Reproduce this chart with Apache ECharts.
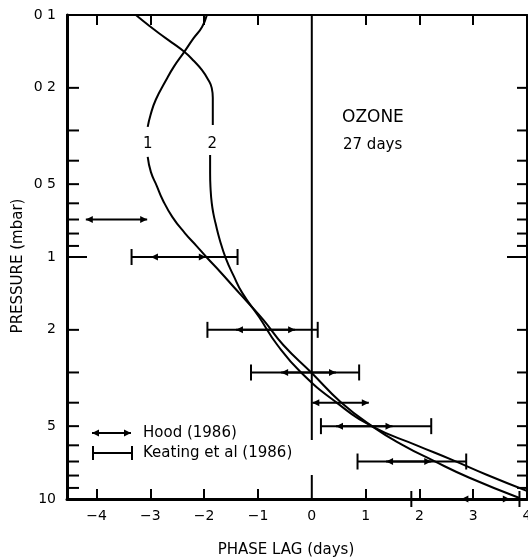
<!DOCTYPE html>
<html>
<head>
<meta charset="utf-8">
<script src="https://cdn.jsdelivr.net/npm/echarts@6/dist/echarts.min.js"></script>
<style>
  html, body { margin: 0; padding: 0; background: #fff; }
  #chart { width: 528px; height: 560px; }
</style>
</head>
<body>
<div id="chart"></div>
<script>
// Ozone 27-day response: phase lag (days) against pressure (mbar)

// Model curve 1 (upper and lower pieces, broken around its label)
const curve1TopPressure = [0.100, 0.112, 0.125, 0.142, 0.163, 0.186, 0.224, 0.260, 0.290];
const curve1TopLag      = [-1.95, -2.04, -2.20, -2.37, -2.56, -2.71, -2.90, -3.00, -3.05];
const curve1BotPressure = [0.386, 0.446, 0.509, 0.581, 0.684, 0.796, 0.901, 1.00, 1.153, 1.33, 1.549, 1.82, 2.31, 3.00, 3.98, 5.02, 6.00, 6.91, 8.17, 9.90];
const curve1BotLag      = [-3.05, -2.99, -2.88, -2.77, -2.59, -2.36, -2.14, -1.96, -1.70, -1.45, -1.18, -0.90, -0.53, -0.01, 0.54, 1.13, 1.70, 2.24, 2.93, 3.86];

// Model curve 2
const curve2TopPressure = [0.100, 0.110, 0.119, 0.130, 0.142, 0.155, 0.169, 0.186, 0.200, 0.220, 0.250, 0.285];
const curve2TopLag      = [-3.27, -3.04, -2.84, -2.60, -2.37, -2.19, -2.04, -1.92, -1.86, -1.84, -1.84, -1.84];
const curve2BotPressure = [0.379, 0.450, 0.530, 0.598, 0.660, 0.724, 0.850, 1.01, 1.20, 1.41, 1.77, 2.31, 3.00, 3.98, 5.02, 6.00, 6.91, 7.94, 9.30];
const curve2BotLag      = [-1.89, -1.89, -1.88, -1.86, -1.83, -1.79, -1.71, -1.60, -1.45, -1.29, -0.98, -0.64, -0.20, 0.45, 1.13, 1.95, 2.62, 3.25, 4.02];

// Curve number labels: [text, lag, pressure]
const curveLabels = [['1', -3.05, 0.34], ['2', -1.85, 0.34]];

// Hood (1986) ranges
const hoodPressure = [0.7, 1, 2, 3, 4, 5, 7, 10];
const hoodLow      = [-4.20, -2.99, -1.41, -0.57, 0.01, 0.45, 1.38, 2.78];
const hoodHigh     = [-3.06, -1.97, -0.31, 0.45, 1.06, 1.50, 2.22, 3.68];

// Keating et al (1986) ranges
const keatingPressure = [1, 2, 3, 5, 7, 10];
const keatingLow      = [-3.35, -1.94, -1.13, 0.17, 0.85, 1.85];
const keatingHigh     = [-1.38, 0.11, 0.88, 2.22, 2.87, 3.86];

// Axes
const lagMin = -4.55, lagMax = 4;
const lagTicks = [-4, -3, -2, -1, 1, 2, 3];
const lagLabels = [-4, -3, -2, -1, 0, 1, 2, 3, 4];
const pressureTicks = [0.1, 0.2, 0.3, 0.4, 0.5, 0.6, 0.7, 0.8, 0.9, 1, 2, 3, 4, 5, 6, 7, 8, 9, 10];
const pressureLabels = { 0.1: '0 1', 0.2: '0 2', 0.5: '0 5', 1: '1', 2: '2', 5: '5', 10: '10' };
// Zero-lag reference line, drawn in two pieces around the legend text: [lag, from, to]
const zeroLineSegments = [[0, 0.1, 5.7], [0, 7.96, 10]];

const FONT = '"DejaVu Sans", sans-serif';
const INK = '#000';

const chart = echarts.init(document.getElementById('chart'), null, { renderer: 'canvas' });

function pairs(lags, pressures) {
  return lags.map((x, i) => [x, pressures[i]]);
}

function curveSeries(lags, pressures) {
  return {
    type: 'line',
    data: pairs(lags, pressures),
    smooth: 0.5,
    showSymbol: false,
    symbol: 'none',
    clip: true,
    lineStyle: { color: INK, width: 2 },
    z: 3
  };
}

function renderPressureTick(params, api) {
  const p = api.value(0);
  const l = api.coord([lagMin, p]);
  const r = api.coord([lagMax, p]);
  const isOne = Math.abs(p - 1) < 1e-9;
  const lenL = isOne ? 20 : 12;
  const lenR = isOne ? 20 : 10;
  const children = [
    { type: 'line', shape: { x1: l[0], y1: l[1], x2: l[0] + lenL, y2: l[1] }, style: { stroke: INK, lineWidth: 2 } },
    { type: 'line', shape: { x1: r[0] - lenR, y1: r[1], x2: r[0], y2: r[1] }, style: { stroke: INK, lineWidth: 2 } }
  ];
  const text = pressureLabels[String(p)];
  if (text) {
    children.push({
      type: 'text',
      style: { text: text, x: l[0] - 11, y: l[1], align: 'right', verticalAlign: 'middle', font: '14px ' + FONT, fill: INK }
    });
  }
  return { type: 'group', children: children };
}

function renderKeating(params, api) {
  const p = api.value(0);
  const a = api.coord([api.value(1), p]);
  const b = api.coord([api.value(2), p]);
  const s = { stroke: INK, lineWidth: 2 };
  return {
    type: 'group',
    children: [
      { type: 'line', shape: { x1: a[0], y1: a[1], x2: b[0], y2: b[1] }, style: s },
      { type: 'line', shape: { x1: a[0], y1: a[1] - 8, x2: a[0], y2: a[1] + 8 }, style: s },
      { type: 'line', shape: { x1: b[0], y1: b[1] - 8, x2: b[0], y2: b[1] + 8 }, style: s }
    ]
  };
}

function arrowHeads(a, b) {
  return [
    { type: 'polygon', shape: { points: [[a[0], a[1]], [a[0] + 7, a[1] - 3.5], [a[0] + 7, a[1] + 3.5]] }, style: { fill: INK } },
    { type: 'polygon', shape: { points: [[b[0], b[1]], [b[0] - 7, b[1] - 3.5], [b[0] - 7, b[1] + 3.5]] }, style: { fill: INK } }
  ];
}

function renderHood(params, api) {
  const p = api.value(0);
  const a = api.coord([api.value(1), p]);
  const b = api.coord([api.value(2), p]);
  return {
    type: 'group',
    children: [
      { type: 'line', shape: { x1: a[0], y1: a[1], x2: b[0], y2: b[1] }, style: { stroke: INK, lineWidth: 2 } }
    ].concat(arrowHeads(a, b))
  };
}

function renderZeroLine(params, api) {
  const a = api.coord([api.value(0), api.value(1)]);
  const b = api.coord([api.value(0), api.value(2)]);
  return { type: 'line', shape: { x1: a[0], y1: a[1], x2: b[0], y2: b[1] }, style: { stroke: INK, lineWidth: 2 } };
}

function renderCurveLabel(params, api) {
  const c = api.coord([api.value(1), api.value(2)]);
  return {
    type: 'text',
    style: { text: curveLabels[params.dataIndex][0], x: c[0], y: c[1], align: 'center', verticalAlign: 'middle', font: '15px ' + FONT, fill: INK }
  };
}

const commonX = {
  type: 'value', min: lagMin, max: lagMax,
  splitLine: { show: false }
};
const commonY = {
  type: 'log', logBase: 10, min: 0.1, max: 10, inverse: true,
  splitLine: { show: false }, axisTick: { show: false }, axisLabel: { show: false }
};

const option = {
  animation: false,
  backgroundColor: '#fff',
  textStyle: { fontFamily: FONT },
  grid: { left: 67, right: 1, top: 15, bottom: 61, containLabel: false, outerBoundsMode: 'none' },
  xAxis: [
    Object.assign({}, commonX, {
      position: 'bottom',
      axisLine: { onZero: false, lineStyle: { color: INK, width: 3 } },
      axisTick: { inside: true, length: 10, customValues: lagTicks, lineStyle: { color: INK, width: 2 } },
      axisLabel: {
        customValues: lagLabels, color: INK, fontSize: 14, margin: 10,
        formatter: v => (v < 0 ? '\u2212' + Math.abs(v) : String(v))
      }
    }),
    Object.assign({}, commonX, {
      position: 'top',
      axisLine: { onZero: false, lineStyle: { color: INK, width: 2 } },
      axisTick: { inside: true, length: 10, customValues: lagTicks, lineStyle: { color: INK, width: 2 } },
      axisLabel: { show: false }
    })
  ],
  yAxis: [
    Object.assign({}, commonY, { position: 'left', axisLine: { onZero: false, lineStyle: { color: INK, width: 3 } } }),
    Object.assign({}, commonY, { position: 'right', axisLine: { onZero: false, lineStyle: { color: INK, width: 2 } } })
  ],
  graphic: [
    { type: 'text', x: 342, y: 118, style: { text: 'OZONE', font: '17px ' + FONT, fill: INK, align: 'left', verticalAlign: 'middle' } },
    { type: 'text', x: 343, y: 145, style: { text: '27 days', font: '15px ' + FONT, fill: INK, align: 'left', verticalAlign: 'middle' } },
    // legend glyphs
    { type: 'line', shape: { x1: 92, y1: 433, x2: 131, y2: 433 }, style: { stroke: INK, lineWidth: 2 } },
    { type: 'polygon', shape: { points: [[92, 433], [99, 429.5], [99, 436.5]] }, style: { fill: INK } },
    { type: 'polygon', shape: { points: [[131, 433], [124, 429.5], [124, 436.5]] }, style: { fill: INK } },
    { type: 'line', shape: { x1: 93, y1: 453, x2: 132, y2: 453 }, style: { stroke: INK, lineWidth: 2 } },
    { type: 'line', shape: { x1: 93, y1: 446, x2: 93, y2: 460 }, style: { stroke: INK, lineWidth: 2 } },
    { type: 'line', shape: { x1: 132, y1: 446, x2: 132, y2: 460 }, style: { stroke: INK, lineWidth: 2 } },
    { type: 'text', x: 143, y: 433, style: { text: 'Hood (1986)', font: '15px ' + FONT, fill: INK, align: 'left', verticalAlign: 'middle' } },
    { type: 'text', x: 143, y: 453, style: { text: 'Keating et al (1986)', font: '15px ' + FONT, fill: INK, align: 'left', verticalAlign: 'middle' } },
    // axis titles
    { type: 'text', x: 18, y: 266, rotation: Math.PI / 2, style: { text: 'PRESSURE (mbar)', font: '15px ' + FONT, fill: INK, align: 'center', verticalAlign: 'middle' } },
    { type: 'text', x: 286, y: 550, style: { text: 'PHASE LAG (days)', font: '15px ' + FONT, fill: INK, align: 'center', verticalAlign: 'middle' } }
  ],
  series: [
    curveSeries(curve1TopLag, curve1TopPressure),
    curveSeries(curve1BotLag, curve1BotPressure),
    curveSeries(curve2TopLag, curve2TopPressure),
    curveSeries(curve2BotLag, curve2BotPressure),
    { type: 'custom', renderItem: renderZeroLine, data: zeroLineSegments, z: 2 },
    { type: 'custom', renderItem: renderPressureTick, data: pressureTicks.map(p => [p]), z: 4 },
    {
      type: 'custom', renderItem: renderKeating, z: 5,
      data: keatingPressure.map((p, i) => [p, keatingLow[i], keatingHigh[i]])
    },
    {
      type: 'custom', renderItem: renderHood, z: 6,
      data: hoodPressure.map((p, i) => [p, hoodLow[i], hoodHigh[i]])
    },
    {
      type: 'custom', renderItem: renderCurveLabel, z: 6,
      data: curveLabels.map(d => [d[0], d[1], d[2]])
    }
  ]
};

chart.setOption(option);
</script>
</body>
</html>
